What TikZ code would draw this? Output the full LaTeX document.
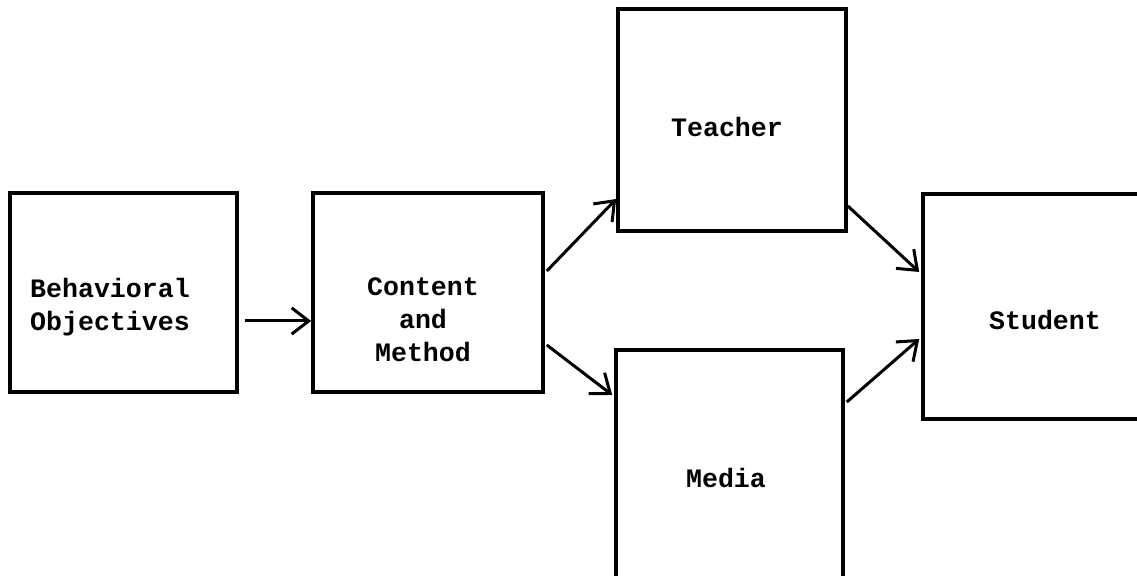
\documentclass[tikz,border=0pt]{standalone}
\usepackage{fontspec}
\setmonofont{Liberation Mono}
\usepackage{tikz}
\usetikzlibrary{arrows.meta,positioning}
\definecolor{inkblk}{gray}{0.0}
\tikzset{
  blk/.style  = {draw=inkblk, line width=1.8pt, fill=white, inner sep=0pt},
  txt/.style  = {font=\ttfamily\bfseries\fontsize{13.3}{16.5}\selectfont,
                 align=center, inner sep=0pt, text=inkblk},
  arr/.style  = {-{Straight Barb[length=3mm, width=4.6mm]}, line width=1.5pt,
                 draw=inkblk},
}
\begin{document}
\begin{tikzpicture}[x=0.5pt,y=-0.5pt]
  \path[use as bounding box, clip] (0,0) rectangle (1137,576);
  % boxes
  \node[blk, minimum width=113.5pt, minimum height=99.5pt] (behav) at (123.5,292.5) {};
  \node[blk, minimum width=115pt,   minimum height=99.5pt] (content) at (428,292.5) {};
  \node[blk, minimum width=114pt,   minimum height=111pt]  (teacher) at (732,120) {};
  \node[blk, minimum width=113.5pt, minimum height=130pt]  (media) at (729.5,480) {};
  \node[blk, minimum width=123.5pt, minimum height=112.5pt] (student) at (1046.5,306.5) {};
  % texts
  \node[txt] (behavTxt)   at (110,307) {Behavioral\\Objectives};
  \node[txt] (contentTxt) at (423,320) {Content\\and\\Method};
  \node[txt] (teacherTxt) at (727,127) {Teacher};
  \node[txt] (mediaTxt)   at (726,478) {Media};
  \node[txt] (studentTxt) at (1045,320) {Student};
  % arrows
  \draw[arr] ([xshift=3pt,yshift=-14.25pt]behav.east) -- ([yshift=-14.25pt]content.west);
  \draw[arr] ([xshift=1pt,yshift=10.75pt]content.east) -- ([yshift=-39.5pt]teacher.west);
  \draw[arr] ([xshift=1pt,yshift=-26.25pt]content.east) -- ([xshift=-1pt,yshift=42.5pt]media.west);
  \draw[arr] ([yshift=-43pt]teacher.east) -- ([xshift=-1pt,yshift=17.25pt]student.west);
  \draw[arr] ([xshift=1pt,yshift=39pt]media.east) -- ([xshift=-1pt,yshift=-16.25pt]student.west);
\end{tikzpicture}
\end{document}
